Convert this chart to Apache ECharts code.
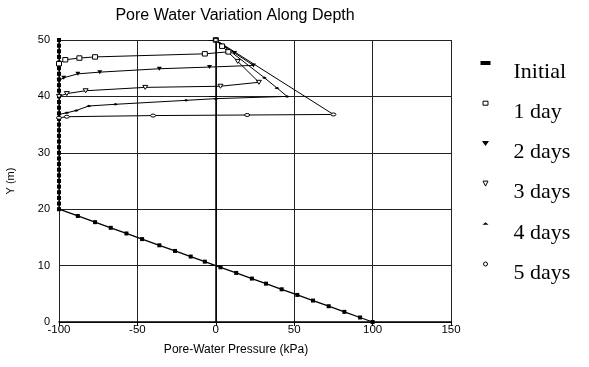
<!DOCTYPE html>
<html>
<head>
<meta charset="utf-8">
<script src="https://cdn.jsdelivr.net/npm/echarts@6.0.0/dist/echarts.min.js"></script>
<style>
  html, body { margin: 0; background: #fff; }
  #chart { width: 589px; height: 367px; }
</style>
</head>
<body>
<div id="chart"></div>
<script>
// axis ticks (kPa / m)
const xTicks = [-100, -50, 0, 50, 100, 150]
const yTicks = [0, 10, 20, 30, 40, 50]

const seriesNames = ['Initial', '1 day', '2 days', '3 days', '4 days', '5 days']

// initial profile: suction cap above y=20, hydrostatic below
const initialX = [
  -100, -100, -100, -100, -100, -100, -100, -100, -100, -100,
  -100, -100, -100, -100, -100, -100, -100, -100, -100, -100,
  -100, -100, -100, -100, -100, -100, -100, -100, -100, -100,
  -100, -88, -77, -67, -57, -47, -36, -26, -16, -7,
  3, 13, 23, 32, 42, 52, 62, 72, 82, 92, 100,
]
const initialY = [
  50, 49, 48, 47, 46, 45, 44, 43, 42, 41,
  40, 39, 38, 37, 36, 35, 34, 33, 32, 31,
  30, 29, 28, 27, 26, 25, 24, 23, 22, 21,
  20, 18.8, 17.7, 16.7, 15.7, 14.7, 13.6, 12.6, 11.6, 10.7,
  9.7, 8.7, 7.7, 6.8, 5.8, 4.8, 3.8, 2.8, 1.8, 0.8, 0,
]

// wetting profiles, top of column -> tip -> back along the front
const day1X = [0, 4, 8, -7, -77, -87, -96, -100]
const day1Y = [50, 48.9, 47.9, 47.55, 47.0, 46.8, 46.5, 45.8]

const day2X = [0, 12, 24, -4, -36, -74, -88, -97, -100]
const day2Y = [50, 47.7, 45.5, 45.2, 44.9, 44.3, 44.0, 43.3, 42.8]

const day3X = [0, 14, 27.5, 3, -45, -83, -95, -100]
const day3Y = [50, 46.2, 42.5, 41.8, 41.6, 41.0, 40.5, 40.0]

const day4X = [0, 31, 39, 45.5, 0, -19, -64, -81, -89, -95, -100]
const day4Y = [50, 43.3, 41.5, 40.0, 39.6, 39.3, 38.6, 38.3, 37.5, 37.1, 36.8]

const day5X = [0, 75, 20, -40, -95, -100]
const day5Y = [50, 36.8, 36.7, 36.6, 36.4, 36.2]

const zip = (xs, ys) => xs.map((x, i) => [x, ys[i]])

// plot markers
const SQUARE = 'path://M0,0H9V8H0Z'
const TRI_DOWN = 'path://M0,0H10L5,8Z'
const DART = 'path://M0,3L5,0L10,3L5,5Z'
const OVAL = 'path://M0,3A5,3,0,1,0,10,3A5,3,0,1,0,0,3Z'

// legend icons sit above the text line: the empty anchors stretch the box downwards
const ANCHOR = ' M0,-5L0,-5 M10,23L10,23'
const ICON_BAR = 'path://M0,-2H10V2H0Z' + ANCHOR
const ICON_SQUARE = 'path://M2.5,-2H7.5V2H2.5Z' + ANCHOR
const ICON_TRI = 'path://M1.5,-2.5H8.5L5,2.5Z' + ANCHOR
const ICON_TRI_OPEN = 'path://M2.5,-2.5H7.5L5,2.5Z' + ANCHOR
const ICON_DART = 'path://M2,1L5,-1.5L8,1Z' + ANCHOR
const ICON_OVAL = 'path://M3,0A2,2,0,1,0,7,0A2,2,0,1,0,3,0Z' + ANCHOR

const styles = [
  { symbol: 'rect', size: [4, 4], open: false, icon: ICON_BAR, data: zip(initialX, initialY) },
  { symbol: SQUARE, size: 5, open: true, icon: ICON_SQUARE, data: zip(day1X, day1Y) },
  { symbol: TRI_DOWN, size: 5, open: false, icon: ICON_TRI, data: zip(day2X, day2Y) },
  { symbol: TRI_DOWN, size: 5, open: true, icon: ICON_TRI_OPEN, data: zip(day3X, day3Y) },
  { symbol: DART, size: 5, open: false, icon: ICON_DART, data: zip(day4X, day4Y) },
  { symbol: OVAL, size: 5, open: true, icon: ICON_OVAL, data: zip(day5X, day5Y) },
]

const chart = echarts.init(document.getElementById('chart'), null, { renderer: 'canvas' })

const axisFont = { fontFamily: 'Liberation Sans', fontSize: 11.5, color: '#000' }

chart.setOption({
  animation: false,
  backgroundColor: '#fff',
  title: {
    text: 'Pore Water Variation Along Depth',
    left: 230,
    top: 3,
    textAlign: 'center',
    textStyle: { fontFamily: 'Liberation Sans', fontSize: 16, fontWeight: 'normal', color: '#000' },
  },
  legend: {
    orient: 'vertical',
    left: 480,
    top: 58,
    padding: 0,
    itemGap: 11.7,
    itemWidth: 10,
    itemHeight: 28,
    textStyle: {
      fontFamily: 'Liberation Serif',
      fontSize: 22,
      lineHeight: 22,
      color: '#000',
      padding: [0, 0, 0, 18],
    },
    data: seriesNames.map((name, i) => ({
      name,
      icon: styles[i].icon,
      itemStyle: styles[i].open
        ? { color: '#fff', borderColor: '#000', borderWidth: 1 }
        : { color: '#000', borderWidth: 0 },
    })),
  },
  grid: { left: 59, right: 138, top: 40, bottom: 45, outerBoundsMode: 'none' },
  xAxis: {
    type: 'value',
    min: xTicks[0],
    max: xTicks[xTicks.length - 1],
    interval: 50,
    name: 'Pore-Water Pressure (kPa)',
    nameLocation: 'middle',
    nameGap: 22,
    nameTextStyle: { fontFamily: 'Liberation Sans', fontSize: 12, color: '#000', padding: [0, 38, 0, 0] },
    axisLine: { lineStyle: { color: '#000', width: 1.5 } },
    axisTick: { show: true, length: 4, lineStyle: { color: '#000' } },
    axisLabel: { ...axisFont, margin: 2 },
    splitLine: { show: true, lineStyle: { color: '#222', width: 1 } },
  },
  yAxis: {
    type: 'value',
    min: yTicks[0],
    max: yTicks[yTicks.length - 1],
    interval: 10,
    name: 'Y (m)',
    nameLocation: 'middle',
    nameGap: 43,
    nameTextStyle: { fontFamily: 'Liberation Sans', fontSize: 11, color: '#000' },
    axisLine: { lineStyle: { color: '#000', width: 1.5 } },
    axisTick: { show: true, length: 7, lineStyle: { color: '#000' } },
    axisLabel: { ...axisFont, fontSize: 11, margin: 9 },
    splitLine: { show: true, lineStyle: { color: '#222', width: 1 } },
  },
  series: seriesNames.map((name, i) => ({
    type: 'line',
    name,
    data: styles[i].data,
    symbol: styles[i].symbol,
    symbolSize: styles[i].size,
    symbolKeepAspect: true,
    showAllSymbol: true,
    color: '#000',
    lineStyle: { color: '#000', width: i === 0 ? 1.3 : 1 },
    itemStyle: styles[i].open
      ? { color: '#fff', borderColor: '#000', borderWidth: 1 }
      : { color: '#000', borderColor: '#000', borderWidth: 0 },
    emphasis: { disabled: true },
  })),
})
</script>
</body>
</html>
